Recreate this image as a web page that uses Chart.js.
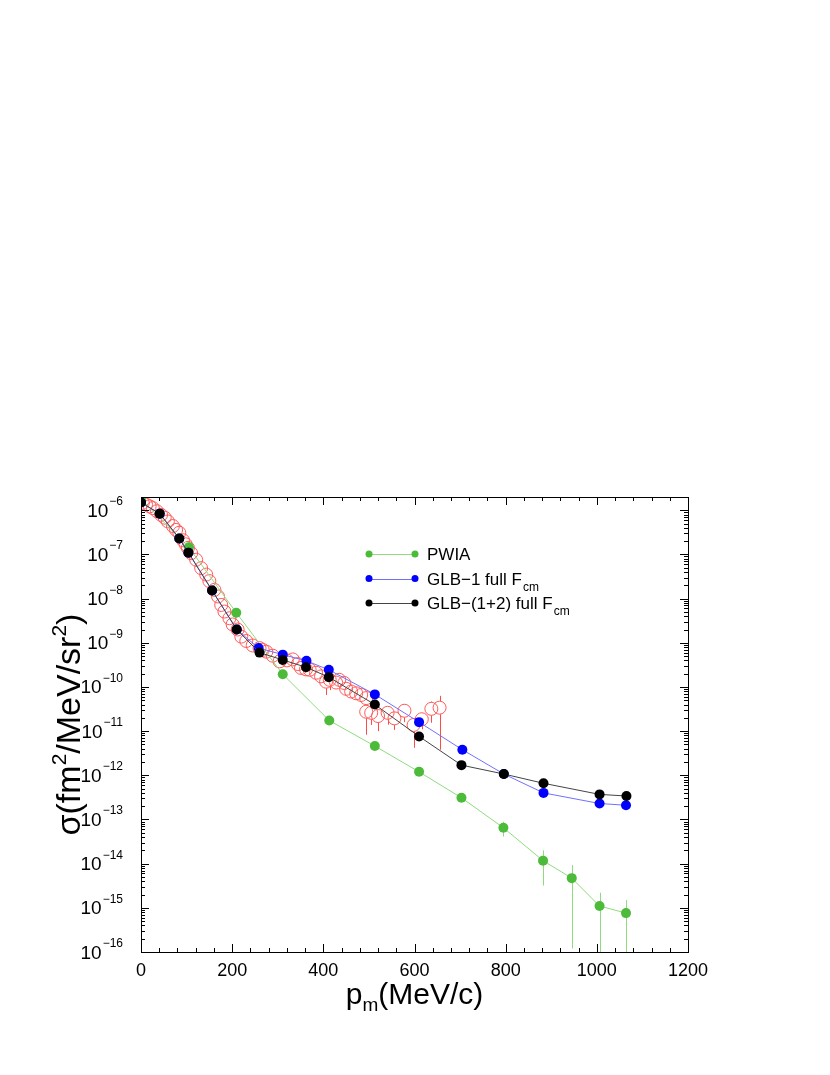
<!DOCTYPE html>
<html>
<head>
<meta charset="utf-8">
<script src="https://cdn.jsdelivr.net/npm/chart.js@4/dist/chart.umd.min.js"></script>
<style>
html, body { margin: 0; padding: 0; background: #fff; }
</style>
</head>
<body>
<canvas id="chart" width="830" height="1075"></canvas>
<script>
// model curves
const pwiaX = [0, 105, 209, 311, 413, 513, 610, 703, 795, 882, 945, 1006, 1064];
const pwiaY = [1.8e-6, 1.45e-7, 4.8e-9, 1.94e-10, 1.74e-11, 4.6e-12, 1.2e-12, 3.1e-13, 6.5e-14, 1.17e-14, 4.7e-15, 1.1e-15, 7.6e-16];
const pwiaLo = [null, null, null, null, null, null, null, null, 4.1e-14, 3.2e-15, 1.2e-16, 1e-17, 1e-17];
const pwiaHi = [null, null, null, null, null, null, null, null, 8.9e-14, 2.0e-14, 9.3e-15, 2.2e-15, 1.5e-15];

const glb1X = [0, 41, 84, 104, 156, 210, 258, 311, 363, 412, 513, 610, 705, 796, 883, 1006, 1064];
const glb1Y = [1.5e-6, 8.4e-7, 2.3e-7, 1.1e-7, 1.53e-8, 2.0e-9, 7.6e-10, 5.4e-10, 3.9e-10, 2.45e-10, 6.8e-11, 1.6e-11, 3.8e-12, 1.07e-12, 4.0e-13, 2.3e-13, 2.1e-13];

const glb12X = [0, 41, 84, 104, 156, 210, 260, 311, 362, 412, 513, 610, 703, 796, 883, 1006, 1065];
const glb12Y = [1.5e-6, 8.4e-7, 2.3e-7, 1.1e-7, 1.53e-8, 2.0e-9, 6.0e-10, 4.1e-10, 2.8e-10, 1.67e-10, 4.0e-11, 7.6e-12, 1.7e-12, 1.07e-12, 6.6e-13, 3.7e-13, 3.4e-13];

// experiment (open circles)
const expX = [4, 11, 19, 26, 35, 44, 52, 59, 70, 77, 84, 92, 98, 103, 110, 121, 132, 143, 150, 161,
  169, 176, 183, 194, 201, 212, 220, 231, 245, 260, 267, 275, 289, 304, 320, 333, 344, 351, 362, 370,
  384, 395, 406, 414, 428, 435, 446, 450, 461, 472, 483, 494, 494, 505, 520, 541, 556, 578, 598, 616, 637, 655];
const expY = [1.48e-6, 1.35e-6, 1.23e-6, 1.12e-6, 9.5e-7, 7.9e-7, 6.8e-7, 5.6e-7, 4.4e-7, 3.6e-7, 3.1e-7, 2.1e-7, 1.7e-7, 1.41e-7, 1.07e-7, 7.6e-8, 4.9e-8, 3.5e-8, 2.5e-8, 1.58e-8,
  1.12e-8, 7.2e-9, 5.1e-9, 3.6e-9, 2.6e-9, 2.0e-9, 1.38e-9, 1.1e-9, 8.7e-10, 7.6e-10, 6.9e-10, 6.3e-10, 5.1e-10, 3.8e-10, 4.0e-10, 4.2e-10, 3.3e-10, 2.7e-10, 2.5e-10, 2.45e-10,
  2.1e-10, 1.74e-10, 1.32e-10, 1.45e-10, 1.26e-10, 1.45e-10, 1.23e-10, 9.1e-11, 7.9e-11, 7.2e-11, 6.6e-11, 5.6e-11, 2.75e-11, 2.6e-11, 2.2e-11, 2.6e-11, 1.95e-11, 2.9e-11, 1.38e-11, 1.86e-11, 3.2e-11, 3.4e-11];
const expLo = [null, null, null, null, null, null, null, null, null, null, null, null, null, null, null, null, null, null, null, null,
  null, null, null, null, null, null, null, null, null, null, null, null, null, null, null, null, null, null, null, null,
  null, null, 6.6e-11, 8.5e-11, null, null, null, null, 5.6e-11, null, 4.5e-11, null, 8.3e-12, 1.38e-11, 1.0e-11, 1.4e-11, 1.07e-11, 1.6e-11, 4.2e-12, 1.1e-11, 1.55e-11, 3.8e-12];
const expHi = [null, null, null, null, null, null, null, null, null, null, null, null, null, null, null, null, null, null, null, null,
  null, null, null, null, null, null, null, null, null, null, null, null, null, null, null, null, null, null, null, null,
  null, null, null, null, null, null, null, null, null, null, null, null, 4.0e-11, null, null, null, null, 4.0e-11, 2.0e-11, null, 4.7e-11, 6.3e-11];

// axes
const xTicks = [0, 200, 400, 600, 800, 1000, 1200];
const yExps = [-6, -7, -8, -9, -10, -11, -12, -13, -14, -15, -16];

const FONT = '"Liberation Sans", Arial, Helvetica, sans-serif';
const pts = (xs, ys) => xs.map((v, i) => ({ x: v, y: ys[i] }));

function vline(ctx, x, y0, y1) {
  ctx.beginPath();
  ctx.moveTo(x, y0);
  ctx.lineTo(x, y1);
  ctx.stroke();
}
function hline(ctx, y, x0, x1) {
  ctx.beginPath();
  ctx.moveTo(x0, y);
  ctx.lineTo(x1, y);
  ctx.stroke();
}

// error bars, under the markers
const errorBars = {
  id: 'errorBars',
  beforeDatasetsDraw(chart) {
    const { ctx, chartArea: a, scales: { x, y } } = chart;
    ctx.save();
    ctx.beginPath();
    ctx.rect(a.left, a.top, a.right - a.left, a.bottom - a.top);
    ctx.clip();
    ctx.lineWidth = 1;
    const draw = (xs, ys, lo, hi, color, gap) => {
      ctx.strokeStyle = color;
      xs.forEach((v, i) => {
        const px = Math.round(x.getPixelForValue(v)) + 0.5;
        const py = y.getPixelForValue(ys[i]);
        if (lo[i] != null) vline(ctx, px, py + gap, y.getPixelForValue(lo[i]));
        if (hi[i] != null) vline(ctx, px, py - gap, y.getPixelForValue(hi[i]));
      });
    };
    draw(expX, expY, expLo, expHi, '#ff4a4a', 6.5);
    draw(pwiaX, pwiaY, pwiaLo, pwiaHi, '#8fdc7f', 0);
    ctx.restore();
  }
};

// frame, inward ticks, y labels, axis titles, legend
const decor = {
  id: 'decor',
  afterDraw(chart) {
    const { ctx, chartArea: a, scales: { x, y } } = chart;
    ctx.save();
    ctx.strokeStyle = '#000';
    ctx.lineWidth = 1;
    ctx.strokeRect(Math.round(a.left) + 0.5, Math.round(a.top) + 0.5, Math.round(a.right - a.left), Math.round(a.bottom - a.top));

    // x ticks: major every 200, minor every 40
    for (let v = 0; v <= 1200; v += 40) {
      const px = Math.round(x.getPixelForValue(v)) + 0.5;
      const len = v % 200 === 0 ? 8 : 4;
      vline(ctx, px, a.bottom, a.bottom - len);
      vline(ctx, px, a.top, a.top + len);
    }
    // y ticks: decades + 2..9
    for (let e = -16; e <= -6; e++) {
      for (let m = 1; m <= 9; m++) {
        const v = m * Math.pow(10, e);
        if (v > y.max) break;
        const py = Math.round(y.getPixelForValue(v)) + 0.5;
        const len = m === 1 ? 8 : 4;
        hline(ctx, py, a.left, a.left + len);
        hline(ctx, py, a.right, a.right - len);
      }
    }

    // y tick labels 10^n
    ctx.fillStyle = '#000';
    ctx.textBaseline = 'alphabetic';
    yExps.forEach(e => {
      const py = y.getPixelForValue(Math.pow(10, e));
      const exp = '\u2212' + Math.abs(e);
      ctx.font = '12px ' + FONT;
      const wE = ctx.measureText(exp).width;
      ctx.textAlign = 'left';
      const right = 123;
      ctx.fillText(exp, right - wE, py - 5);
      ctx.font = '19px ' + FONT;
      ctx.textAlign = 'right';
      ctx.fillText('10', right - wE - 1, py + 6.5);
    });

    // x title p_m(MeV/c)
    const xt = [['p', 30, 0], ['m', 19, 7], ['(MeV/c)', 30, 0]];
    let tw = 0;
    xt.forEach(p => { ctx.font = p[1] + 'px ' + FONT; tw += ctx.measureText(p[0]).width; });
    let cx = (a.left + a.right) / 2 - tw / 2;
    ctx.textAlign = 'left';
    xt.forEach(p => {
      ctx.font = p[1] + 'px ' + FONT;
      ctx.fillText(p[0], cx, 1004 + p[2]);
      cx += ctx.measureText(p[0]).width;
    });

    // y title σ(fm²/MeV/sr²)
    const yt = [['\u03c3(fm', 34, 0], ['2', 21, -14], ['/MeV/sr', 34, 0], ['2', 21, -14], [')', 34, 0]];
    tw = 0;
    yt.forEach(p => { ctx.font = p[1] + 'px ' + FONT; tw += ctx.measureText(p[0]).width; });
    ctx.save();
    ctx.translate(80, (a.top + a.bottom) / 2);
    ctx.rotate(-Math.PI / 2);
    cx = -tw / 2;
    yt.forEach(p => {
      ctx.font = p[1] + 'px ' + FONT;
      ctx.fillText(p[0], cx, p[2]);
      cx += ctx.measureText(p[0]).width;
    });
    ctx.restore();

    // legend
    const rows = [
      { ds: 2, y: 554, text: 'PWIA', sub: '' },
      { ds: 1, y: 578.5, text: 'GLB\u22121 full F', sub: 'cm' },
      { ds: 0, y: 603, text: 'GLB\u2212(1+2) full F', sub: 'cm' }
    ];
    rows.forEach(r => {
      const d = chart.data.datasets[r.ds];
      ctx.strokeStyle = d.borderColor;
      hline(ctx, Math.round(r.y) + 0.5, 369, 415);
      ctx.fillStyle = d.pointBackgroundColor;
      [369, 415].forEach(px => {
        ctx.beginPath();
        ctx.arc(px, r.y, 3.5, 0, Math.PI * 2);
        ctx.fill();
      });
      ctx.fillStyle = '#000';
      ctx.font = '17px ' + FONT;
      ctx.fillText(r.text, 427, r.y + 6);
      if (r.sub) {
        const w = ctx.measureText(r.text).width;
        ctx.font = '12px ' + FONT;
        ctx.fillText(r.sub, 427 + w + 1, r.y + 12);
      }
    });
    ctx.restore();
  }
};

new Chart(document.getElementById('chart'), {
  type: 'scatter',
  data: {
    datasets: [
      {
        label: 'GLB-(1+2) full Fcm',
        data: pts(glb12X, glb12Y),
        showLine: true,
        borderColor: '#444444',
        borderWidth: 1,
        pointBackgroundColor: '#000000',
        pointBorderWidth: 0,
        pointRadius: 5,
        order: 0
      },
      {
        label: 'GLB-1 full Fcm',
        data: pts(glb1X, glb1Y),
        showLine: true,
        borderColor: '#7070ff',
        borderWidth: 1,
        pointBackgroundColor: '#0000ff',
        pointBorderWidth: 0,
        pointRadius: 5,
        order: 1
      },
      {
        label: 'PWIA',
        data: pts(pwiaX, pwiaY),
        showLine: true,
        borderColor: '#8fdc7f',
        borderWidth: 1,
        pointBackgroundColor: '#4dbb3a',
        pointBorderWidth: 0,
        pointRadius: 5,
        order: 2
      },
      {
        label: 'data',
        data: pts(expX, expY),
        showLine: false,
        borderColor: '#ff5a5a',
        backgroundColor: 'rgba(0,0,0,0)',
        pointBorderColor: '#ff5a5a',
        pointBackgroundColor: 'rgba(0,0,0,0)',
        pointBorderWidth: 1,
        pointRadius: 6.5,
        order: 3
      }
    ]
  },
  options: {
    responsive: false,
    animation: false,
    devicePixelRatio: 1,
    layout: { padding: { left: 0, right: 142, top: 497, bottom: 0 } },
    plugins: {
      legend: { display: false },
      tooltip: { enabled: false }
    },
    scales: {
      x: {
        type: 'linear',
        min: 0,
        max: 1200,
        grid: { display: false, drawTicks: false },
        border: { display: false },
        afterBuildTicks: s => { s.ticks = xTicks.map(v => ({ value: v })); },
        ticks: {
          color: '#000',
          font: { family: FONT, size: 18 },
          padding: 8,
          maxRotation: 0,
          callback: v => String(v)
        },
        afterFit: s => { s.height = 123; }
      },
      y: {
        type: 'logarithmic',
        min: 1e-16,
        max: 2e-6,
        grid: { display: false, drawTicks: false },
        border: { display: false },
        ticks: { display: false },
        afterFit: s => { s.width = 141; }
      }
    }
  },
  plugins: [errorBars, decor]
});
</script>
</body>
</html>
